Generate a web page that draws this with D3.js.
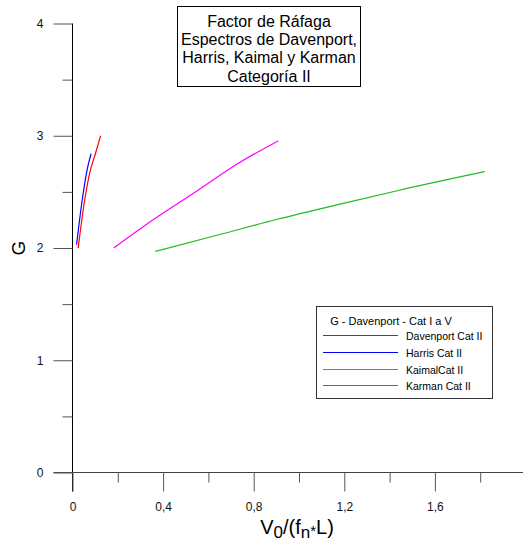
<!DOCTYPE html>
<html>
<head>
<meta charset="utf-8">
<script src="https://cdn.jsdelivr.net/npm/d3@7"></script>
<style>
  body { margin: 0; background: #fff; }
  svg { display: block; font-family: "Liberation Sans", Arial, sans-serif; }
</style>
</head>
<body>
<div id="chart"></div>
<script>
// values
const davenport = [[0.025, 2.00], [0.054, 2.43], [0.076, 2.67], [0.101, 2.84], [0.124, 3.00]];
const harris = [[0.018, 2.03], [0.043, 2.43], [0.062, 2.67], [0.082, 2.84]];
const kaimal = [[0.366, 1.97], [0.65, 2.12], [0.904, 2.256], [1.2, 2.40], [1.448, 2.517], [1.82, 2.68]];
const karman = [[0.182, 2.00], [0.359, 2.256], [0.551, 2.51], [0.72, 2.74], [0.908, 2.954]];

const seriesNames = ["Davenport Cat II", "Harris Cat II", "KaimalCat II", "Karman Cat II"];
const seriesColors = ["#ff0000", "#0000ff", "#22bb22", "#ff00ff"];
const titleLines = ["Factor de Ráfaga", "Espectros de Davenport,", "Harris, Kaimal y Karman", "Categoría II"];
const legendTitle = "G - Davenport - Cat I a V";
const xTicks = [0, 0.4, 0.8, 1.2, 1.6, 2.0];
const yTicks = [0, 1, 2, 3, 4];

const W = 523, H = 542;
const svg = d3.select("#chart").append("svg")
    .attr("width", W).attr("height", H);

const x = d3.scaleLinear().domain([0, 2]).range([72.5, 525.5]);
const y = d3.scaleLinear().domain([0, 4]).range([472.5, 23.5]);
const fmt = d => d3.format(".1f")(d).replace(".", ",").replace(",0", "");

const tickLen = 19, minorLen = 10;

// axis lines
svg.append("line").attr("x1", x(0)).attr("x2", x(0))
    .attr("y1", y(4)).attr("y2", y(0) + tickLen)
    .attr("stroke", "#000");
svg.append("line").attr("x1", x(0) - tickLen).attr("x2", W)
    .attr("y1", y(0)).attr("y2", y(0))
    .attr("stroke", "#444");

// y axis
const yAxis = svg.append("g").attr("transform", `translate(${x(0)},0)`)
    .call(d3.axisLeft(y).tickValues(yTicks).tickSize(tickLen).tickPadding(10).tickFormat(d3.format("d")));
yAxis.select(".domain").remove();
yAxis.selectAll("line").attr("stroke", "#555");
yAxis.selectAll("text").attr("font-size", 12).attr("font-family", "Liberation Sans, Arial, sans-serif").attr("fill", "#111");
svg.append("g").attr("transform", `translate(${x(0)},0)`)
    .call(d3.axisLeft(y).tickValues([0.5, 1.5, 2.5, 3.5]).tickSize(minorLen).tickFormat(""))
    .call(g => g.select(".domain").remove())
    .selectAll("line").attr("stroke", "#555");

// x axis
const xAxis = svg.append("g").attr("transform", `translate(0,${y(0)})`)
    .call(d3.axisBottom(x).tickValues(xTicks).tickSize(tickLen).tickPadding(11).tickFormat(fmt));
xAxis.select(".domain").remove();
xAxis.selectAll("line").attr("stroke", "#555");
xAxis.selectAll("text").attr("font-size", 12).attr("font-family", "Liberation Sans, Arial, sans-serif").attr("fill", "#111");
svg.append("g").attr("transform", `translate(0,${y(0)})`)
    .call(d3.axisBottom(x).tickValues([0.2, 0.6, 1.0, 1.4, 1.8]).tickSize(minorLen).tickFormat(""))
    .call(g => g.select(".domain").remove())
    .selectAll("line").attr("stroke", "#555");

// axis titles
svg.append("text")
    .attr("transform", `translate(25,${y(2)}) rotate(-90)`)
    .attr("text-anchor", "middle")
    .attr("font-size", 19)
    .text("G");

const xl = svg.append("text")
    .attr("x", 297).attr("y", 534)
    .attr("text-anchor", "middle")
    .attr("font-size", 20);
xl.append("tspan").text("V");
xl.append("tspan").attr("font-size", 17).attr("dy", 4).text("0");
xl.append("tspan").attr("dy", -4).text("/(f");
xl.append("tspan").attr("font-size", 17).attr("dy", 4).text("n");
xl.append("tspan").attr("font-size", 15).attr("dy", -2).text("*");
xl.append("tspan").attr("dy", -2).text("L)");

// lines
const line = d3.line().x(d => x(d[0])).y(d => y(d[1])).curve(d3.curveMonotoneX);
svg.selectAll("path.series")
    .data([davenport, harris, kaimal, karman])
    .enter()
    .append("path")
    .attr("class", "series")
    .attr("d", line)
    .attr("fill", "none")
    .attr("stroke", (d, i) => seriesColors[i])
    .attr("stroke-width", 1.2);

// title box
svg.append("rect").attr("x", 177.5).attr("y", 6.5).attr("width", 183).attr("height", 80)
    .attr("fill", "#fff").attr("stroke", "#000");
svg.selectAll("text.title")
    .data(titleLines)
    .enter()
    .append("text")
    .attr("class", "title")
    .attr("x", 269).attr("y", (d, i) => 27 + i * 18.2)
    .attr("text-anchor", "middle")
    .attr("font-size", 16)
    .text(d => d);

// legend
const legend = svg.append("g");
legend.append("rect").attr("x", 316.5).attr("y", 306.5).attr("width", 176).attr("height", 92)
    .attr("fill", "#fff").attr("stroke", "#333");
legend.append("text").attr("x", 391).attr("y", 324.5).attr("text-anchor", "middle")
    .attr("font-size", 11).text(legendTitle);
seriesNames.forEach((n, i) => {
    const yy = Math.round(335 + i * 16.8) + 0.5;
    legend.append("line").attr("x1", 323).attr("x2", 398).attr("y1", yy).attr("y2", yy)
        .attr("stroke", seriesColors[i]).attr("stroke-width", 1.2);
    legend.append("text").attr("x", 406).attr("y", yy + 4).attr("font-size", 10.5).text(n);
});
</script>
</body>
</html>
